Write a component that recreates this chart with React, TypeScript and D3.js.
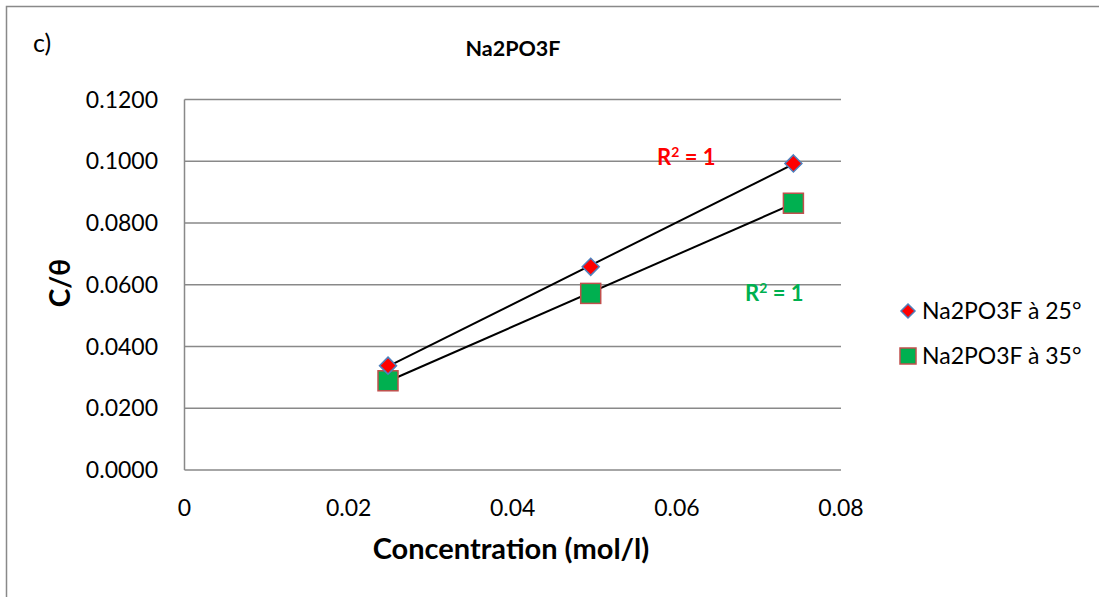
import React, { useEffect, useRef } from "react";
import * as d3 from "d3";

// Concentration (mol/l) and C/θ for each temperature series
const concentrations = [0.0248, 0.0495, 0.0742];
const series25 = [0.0338, 0.0658, 0.0993];
const series35 = [0.0289, 0.0572, 0.0864];

const yTicks = [0, 0.02, 0.04, 0.06, 0.08, 0.1, 0.12];
const xTicks = [0, 0.02, 0.04, 0.06, 0.08];

const seriesNames = ["Na2PO3F à 25°", "Na2PO3F à 35°"];
const chartTitle = "Na2PO3F";
const panelLabel = "c)";
const xTitle = "Concentration (mol/l)";
const yTitle = "C/θ";

const W = 1099;
const H = 597;
const FONT = "Lato, 'Open Sans', sans-serif";
const GRID = "#898989";

function linearFit(xs: number[], ys: number[]) {
  const n = xs.length;
  const mx = d3.mean(xs)!;
  const my = d3.mean(ys)!;
  let sxy = 0;
  let sxx = 0;
  for (let i = 0; i < n; i++) {
    sxy += (xs[i] - mx) * (ys[i] - my);
    sxx += (xs[i] - mx) ** 2;
  }
  const slope = sxy / sxx;
  const intercept = my - slope * mx;
  return (x: number) => intercept + slope * x;
}

export default function App() {
  const ref = useRef<SVGSVGElement | null>(null);

  useEffect(() => {
    const svg = d3.select(ref.current!);
    svg.selectAll("*").remove();

    svg.append("rect").attr("width", W).attr("height", H).attr("fill", "#fff");
    // outer chart frame
    svg
      .append("rect")
      .attr("x", 6.5)
      .attr("y", 6.5)
      .attr("width", W + 10)
      .attr("height", H + 10)
      .attr("fill", "none")
      .attr("stroke", GRID)
      .attr("stroke-width", 1.5);

    const x = d3.scaleLinear().domain([0, 0.08]).range([184.5, 841]);
    const y = d3.scaleLinear().domain([0, 0.12]).range([470, 99.5]);

    // horizontal gridlines
    svg
      .append("g")
      .selectAll("line")
      .data(yTicks)
      .join("line")
      .attr("x1", x(0))
      .attr("x2", x(0.08))
      .attr("y1", (d) => y(d))
      .attr("y2", (d) => y(d))
      .attr("stroke", GRID)
      .attr("stroke-width", 1.5);

    // left axis line
    svg
      .append("line")
      .attr("x1", x(0))
      .attr("x2", x(0))
      .attr("y1", y(0))
      .attr("y2", y(0.12))
      .attr("stroke", GRID)
      .attr("stroke-width", 1.5);

    // y tick labels
    svg
      .append("g")
      .selectAll("text")
      .data(yTicks)
      .join("text")
      .attr("x", 158)
      .attr("y", (d) => y(d))
      .attr("dy", "0.35em")
      .attr("text-anchor", "end")
      .attr("font-family", FONT)
      .attr("font-size", 23)
      .attr("fill", "#000")
      .text((d) => d3.format(".4f")(d));

    // x tick labels
    svg
      .append("g")
      .selectAll("text")
      .data(xTicks)
      .join("text")
      .attr("x", (d) => x(d))
      .attr("y", 508)
      .attr("dy", "0.35em")
      .attr("text-anchor", "middle")
      .attr("font-family", FONT)
      .attr("font-size", 23)
      .attr("fill", "#000")
      .text((d) => (d === 0 ? "0" : d3.format(".2f")(d)));

    // trendlines
    const fits = [linearFit(concentrations, series25), linearFit(concentrations, series35)];
    const xMin = d3.min(concentrations)!;
    const xMax = d3.max(concentrations)!;
    svg
      .append("g")
      .selectAll("line")
      .data(fits)
      .join("line")
      .attr("x1", x(xMin))
      .attr("x2", x(xMax))
      .attr("y1", (f) => y(f(xMin)))
      .attr("y2", (f) => y(f(xMax)))
      .attr("stroke", "#000")
      .attr("stroke-width", 2);

    const diamond = (cx: number, cy: number, r: number) =>
      `M${cx},${cy - r}L${cx + r},${cy}L${cx},${cy + r}L${cx - r},${cy}Z`;

    // 35° squares (drawn first so the diamonds stay on top)
    svg
      .append("g")
      .selectAll("rect")
      .data(concentrations.map((c, i) => [c, series35[i]]))
      .join("rect")
      .attr("x", (d) => x(d[0]) - 10)
      .attr("y", (d) => y(d[1]) - 10)
      .attr("width", 20)
      .attr("height", 20)
      .attr("fill", "#00B050")
      .attr("stroke", "#C0504D")
      .attr("stroke-width", 1.5);

    // 25° diamonds
    svg
      .append("g")
      .selectAll("path")
      .data(concentrations.map((c, i) => [c, series25[i]]))
      .join("path")
      .attr("d", (d) => diamond(x(d[0]), y(d[1]), 8.5))
      .attr("fill", "#FF0000")
      .attr("stroke", "#4F81BD")
      .attr("stroke-width", 1.5);

    // R² annotations
    const r2 = [
      { x: 657, y: 157, color: "#FF0000" },
      { x: 745, y: 293, color: "#00B050" },
    ];
    r2.forEach((r) => {
      const t = svg
        .append("text")
        .attr("x", r.x)
        .attr("y", r.y)
        .attr("dy", "0.35em")
        .attr("font-family", FONT)
        .attr("font-weight", "bold")
        .attr("font-size", 22)
        .attr("fill", r.color);
      t.append("tspan").text("R");
      t.append("tspan").attr("font-size", 14).attr("dy", -8).text("2");
      t.append("tspan").attr("dy", 8).text(" = 1");
    });

    // titles
    svg
      .append("text")
      .attr("x", 33)
      .attr("y", 43)
      .attr("dy", "0.35em")
      .attr("font-family", FONT)
      .attr("font-size", 25)
      .text(panelLabel);

    svg
      .append("text")
      .attr("x", 513)
      .attr("y", 48)
      .attr("dy", "0.35em")
      .attr("text-anchor", "middle")
      .attr("font-family", FONT)
      .attr("font-weight", "bold")
      .attr("font-size", 21.5)
      .text(chartTitle);

    svg
      .append("text")
      .attr("x", 511)
      .attr("y", 549)
      .attr("dy", "0.35em")
      .attr("text-anchor", "middle")
      .attr("font-family", FONT)
      .attr("font-weight", "bold")
      .attr("font-size", 29)
      .text(xTitle);

    svg
      .append("text")
      .attr("transform", `translate(60,283) rotate(-90)`)
      .attr("dy", "0.35em")
      .attr("text-anchor", "middle")
      .attr("font-family", FONT)
      .attr("font-weight", "bold")
      .attr("font-size", 28)
      .text(yTitle);

    // legend
    const legend = svg.append("g");
    const ly = [311, 356];
    legend
      .append("path")
      .attr("d", diamond(908, ly[0], 7))
      .attr("fill", "#FF0000")
      .attr("stroke", "#4F81BD")
      .attr("stroke-width", 1.5);
    legend
      .append("rect")
      .attr("x", 900)
      .attr("y", ly[1] - 8)
      .attr("width", 16)
      .attr("height", 16)
      .attr("fill", "#00B050")
      .attr("stroke", "#C0504D")
      .attr("stroke-width", 1.5);
    legend
      .selectAll("text")
      .data(seriesNames)
      .join("text")
      .attr("x", 922)
      .attr("y", (_, i) => ly[i])
      .attr("dy", "0.35em")
      .attr("font-family", FONT)
      .attr("font-size", 23)
      .text((d) => d);
  }, []);

  return (
    <svg
      ref={ref}
      width={W}
      height={H}
      style={{ position: "absolute", left: 0, top: 0, display: "block" }}
    />
  );
}
